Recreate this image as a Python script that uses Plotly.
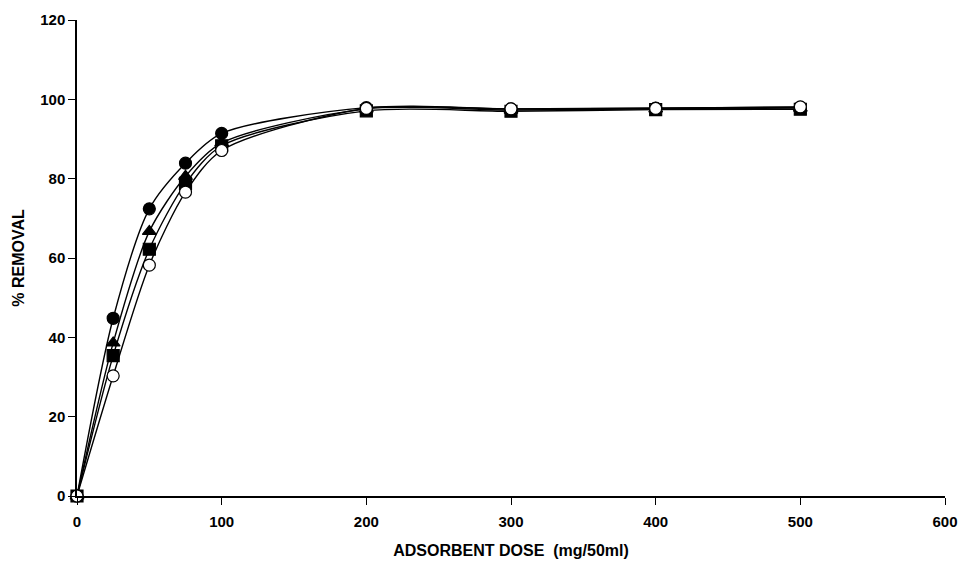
import plotly.graph_objects as go

dose = [0, 25, 50, 75, 100, 200, 300, 400, 500]
filled_circle = [0, 44.8, 72.4, 83.9, 91.4, 97.9, 97.6, 97.8, 98.0]
triangle = [0, 38.6, 66.7, 80.6, 89.0, 97.6, 97.3, 97.6, 97.8]
square = [0, 35.4, 62.2, 78.8, 88.3, 97.1, 97.0, 97.4, 97.5]
open_circle = [0, 30.3, 58.2, 76.6, 87.1, 97.7, 97.6, 97.7, 98.1]
x_ticks = [0, 100, 200, 300, 400, 500, 600]
y_ticks = [0, 20, 40, 60, 80, 100, 120]

series = [
    (filled_circle, "circle", "black"),
    (triangle, "triangle-up", "black"),
    (square, "square", "black"),
    (open_circle, "circle", "white"),
]

fig = go.Figure()
for vals, sym, fill in series:
    fig.add_trace(go.Scatter(
        x=dose, y=vals, mode="lines+markers",
        line=dict(color="black", width=1.4, shape="spline", smoothing=0.8),
        marker=dict(symbol=sym, size=12, color=fill, line=dict(color="black", width=1.2)),
        cliponaxis=False, showlegend=False,
    ))

font = dict(family="Liberation Sans, Arial, sans-serif", size=15, color="black")
title_font = dict(family="Liberation Sans, Arial, sans-serif", size=16, color="black")
fig.update_layout(
    width=965, height=561,
    margin=dict(l=77, r=20, t=20, b=65),
    plot_bgcolor="white", paper_bgcolor="white",
    font=font,
)
fig.update_xaxes(
    range=[0, 600], tickvals=x_ticks,
    ticktext=["<b>%d</b>" % v for v in x_ticks],
    showline=True, linecolor="black", linewidth=1.5,
    ticks="outside", ticklen=7, tickcolor="black", showgrid=False, zeroline=False,
    ticklabelstandoff=4, automargin=False,
    title=dict(text="<b>ADSORBENT DOSE  (mg/50ml)</b>", standoff=16, font=title_font),
)
fig.update_yaxes(
    range=[0, 120], tickvals=y_ticks,
    ticktext=["<b>%d</b>" % v for v in y_ticks],
    showline=True, linecolor="black", linewidth=1.5,
    ticks="outside", ticklen=7, tickcolor="black", showgrid=False, zeroline=False,
    automargin=False,
    title=dict(text="<b>% REMOVAL</b>", standoff=12, font=title_font),
)
fig.write_html("out.html")
